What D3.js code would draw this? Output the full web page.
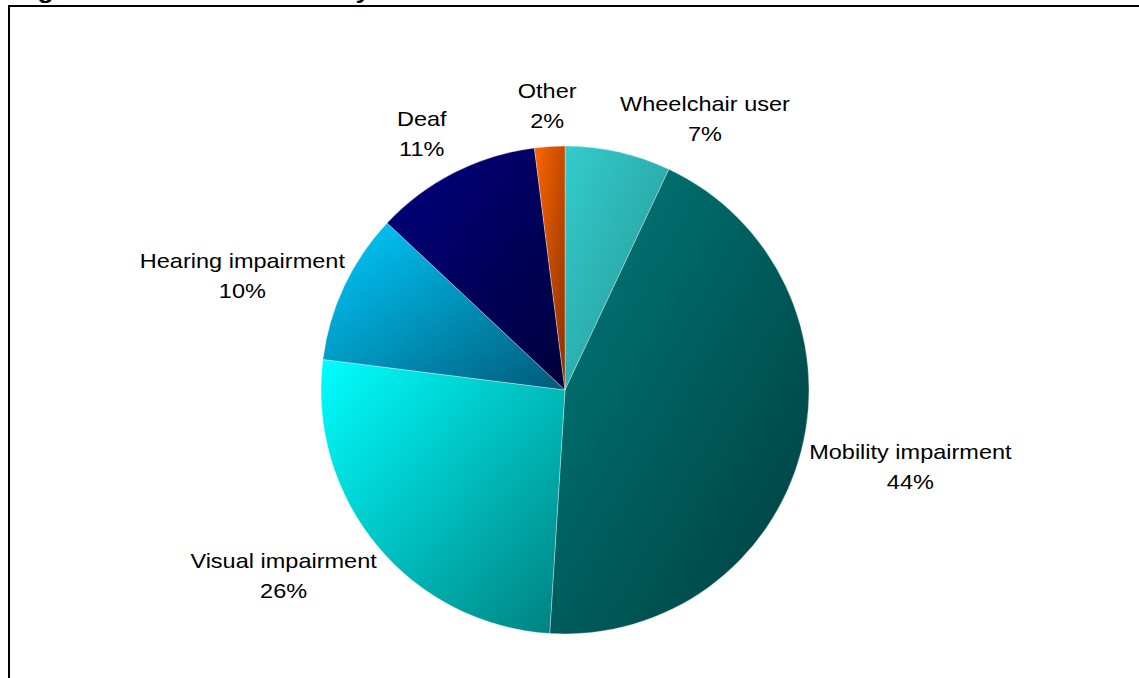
<!DOCTYPE html>
<html>
<head>
<meta charset="utf-8">
<script src="https://cdn.jsdelivr.net/npm/d3@7"></script>
<style>
  body { margin: 0; background: #fff; }
  svg { display: block; }
  text { font-family: "Liberation Sans", Arial, sans-serif; fill: #000; }
</style>
</head>
<body>
<svg id="chart" width="1139" height="678"></svg>
<script>
// Share of respondents by type of disability (%)
const categories = ["Wheelchair user", "Mobility impairment", "Visual impairment", "Hearing impairment", "Deaf", "Other"];
const values = [7, 44, 26, 10, 11, 2];
const valueLabels = ["7%", "44%", "26%", "10%", "11%", "2%"];
const title = "Figure 5: Nature of disability";

// Each slice is shaded from its base colour (top-left) to a darker tone (bottom-right)
const lightColors = ["#33CCCC", "#007B7B", "#00FFFF", "#00CCFF", "#000080", "#FF6600"];
const darkColors  = ["#259494", "#003E3E", "#007F7F", "#005A78", "#00003C", "#8A3000"];

// Small per-label nudges (px) applied after automatic placement
const labelNudgeX = [0, 0, 6, 8, -4, -2];
const labelNudgeY = [-3, 0, 2, 15, -9, -10];

const svg = d3.select("#chart");
const W = 1139, H = 678;
const cx = 565, cy = 390, R = 244;
const fontSize = 21, stretch = 1.12, lineGap = 30;

// Chart area frame (runs off the right and bottom edges)
svg.append("rect")
  .attr("x", 9).attr("y", 6)
  .attr("width", W + 20).attr("height", H + 20)
  .attr("fill", "none").attr("stroke", "#000").attr("stroke-width", 2);

// Title sits above the frame, mostly clipped by the page top
svg.append("text")
  .attr("transform", `translate(14,-2.5) scale(1.2,1)`)
  .attr("font-size", 22).attr("font-weight", "bold")
  .text(title);

const defs = svg.append("defs");
categories.forEach((c, i) => {
  const g = defs.append("linearGradient")
    .attr("id", "grad" + i)
    .attr("x1", 0).attr("y1", 0).attr("x2", 1).attr("y2", 1);
  g.append("stop").attr("offset", "0%").attr("stop-color", lightColors[i]);
  g.append("stop").attr("offset", "100%").attr("stop-color", darkColors[i]);
});

const pie = d3.pie().sort(null).value(d => d)(values);
const arc = d3.arc().innerRadius(0).outerRadius(R);

const plot = svg.append("g").attr("transform", `translate(${cx},${cy})`);

plot.selectAll("path.slice")
  .data(pie)
  .join("path")
  .attr("class", "slice")
  .attr("d", arc)
  .attr("fill", (d, i) => `url(#grad${i})`)
  .attr("stroke", "rgba(255,255,255,0.45)")
  .attr("stroke-width", 0.75);

// Labels placed just outside each slice, pushed outward along the mid angle
const clamp = v => Math.max(-1, Math.min(1, v));
const labelR = R + 8;
const capH = fontSize * 0.72;

pie.forEach((d, i) => {
  const a = (d.startAngle + d.endAngle) / 2;
  const s = Math.sin(a), c = Math.cos(a);
  const ax = s * labelR, ay = -c * labelR;

  const g = plot.append("g");
  const t1 = g.append("text").attr("font-size", fontSize).attr("text-anchor", "middle").text(categories[i]);
  const t2 = g.append("text").attr("font-size", fontSize).attr("text-anchor", "middle").text(valueLabels[i]);

  const w = Math.max(t1.node().getComputedTextLength(), t2.node().getComputedTextLength()) * stretch;
  const h = capH + lineGap;

  const hs = Math.sign(s) * Math.max(0, Math.abs(s) - 0.08) * 8;
  const bx = ax + (w / 2) * clamp(hs) + labelNudgeX[i];
  const byCenter = ay - (h / 2) * clamp(c * 2.5) + labelNudgeY[i];
  const base1 = byCenter - h / 2 + capH;

  t1.attr("transform", `translate(${bx},${base1}) scale(${stretch},1)`);
  t2.attr("transform", `translate(${bx},${base1 + lineGap}) scale(${stretch},1)`);
});
</script>
</body>
</html>
